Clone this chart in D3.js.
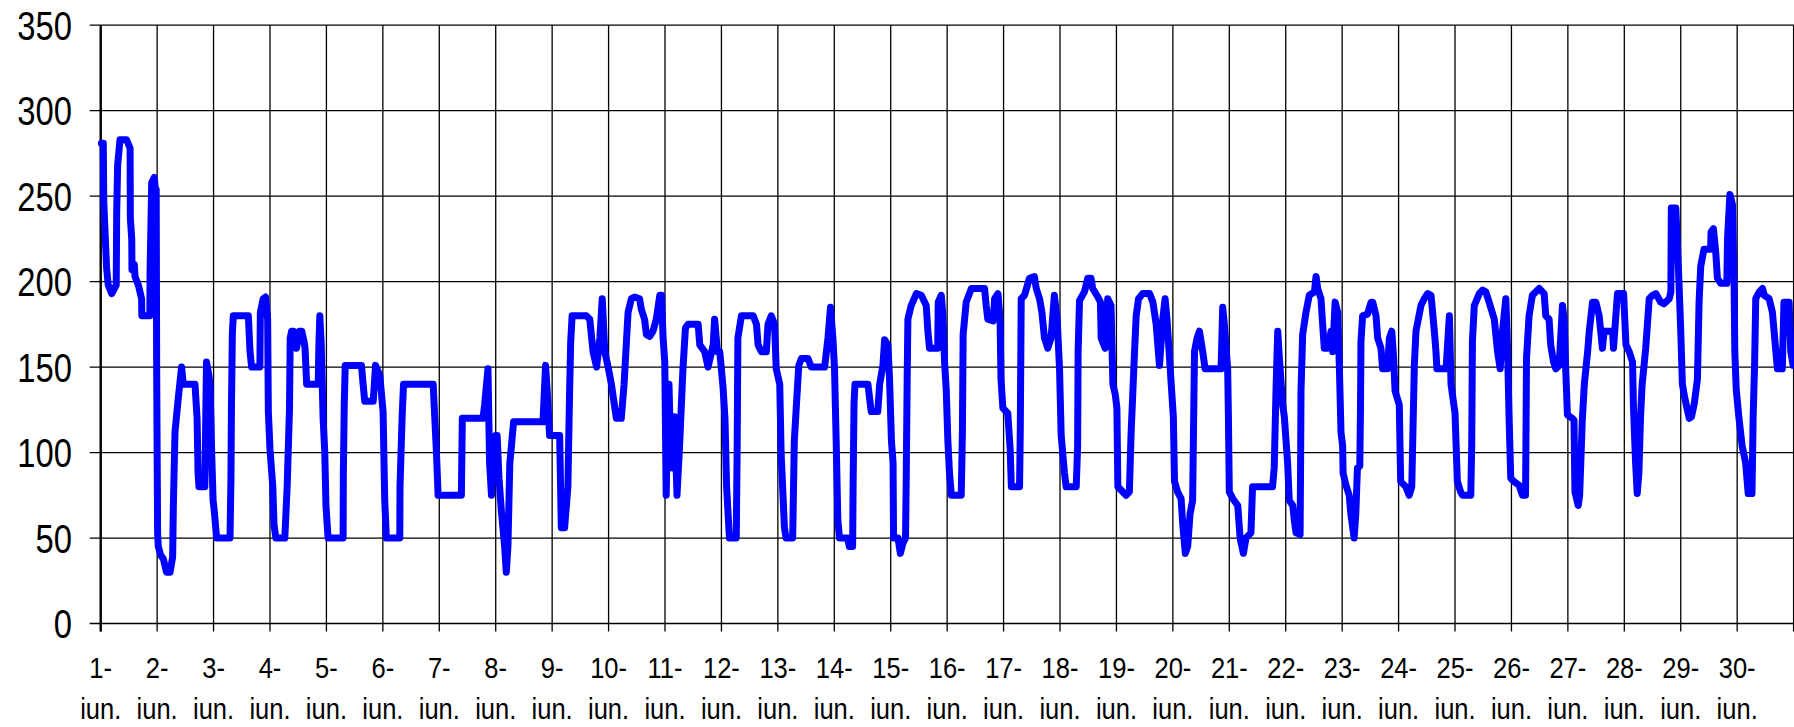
<!DOCTYPE html>
<html lang="en">
<head>
    <meta charset="UTF-8">
    <title>iunie - serie orara</title>
    <script src="https://d3js.org/d3.v7.min.js"></script>
</head>

<style>
    body { margin: 0; background: #fff; }
    svg { display: block; }

    .grid line {
        stroke: #000;
        stroke-width: 1.3px;
    }

    text {
        font-family: "Liberation Sans", Arial, sans-serif;
        fill: #000;
    }
</style>

<body>
<svg width="1794" height="727"></svg>

<script>
    // y axis ticks
    var yTicks = [0, 50, 100, 150, 200, 250, 300, 350];

    // one label per day, two lines
    var dayLabels = ["1-", "2-", "3-", "4-", "5-", "6-", "7-", "8-", "9-", "10-",
        "11-", "12-", "13-", "14-", "15-", "16-", "17-", "18-", "19-", "20-",
        "21-", "22-", "23-", "24-", "25-", "26-", "27-", "28-", "29-", "30-"];
    var monthLabel = "iun.";

    // [hours since 1 iun 00:00, value]
    var series = [
        [0.3,281],[1.1,281],[1.3,247],[2.5,208],[3.2,198],[4.7,193],[6.6,198],[6.8,240],[7.2,268],[8.2,283],
        [11.0,283],[12.5,278],[12.6,237],[13.2,225],[13.3,207],[14.3,210],[14.6,203],[16.0,198],[17.4,190],[17.5,180],
        [20.9,180],[21.0,206],[21.7,258],[22.8,261],[23.3,253],[23.6,254],[23.8,150],[24.2,53],
        [24.5,45],[25.5,40],[26.6,38],[28.0,30],[29.5,30],[30.6,39],[30.9,69],[31.6,112],[33.0,132],[34.4,150],
        [35.1,140],[40.1,140],[41.0,120],[41.4,88],[41.8,80],[44.3,80],[45.0,153],[46.0,145],[46.5,140],[47.2,100],
        [47.8,72],[48.3,66],[49.3,50],
        [55.0,50],[55.4,85],[55.6,126],[56.0,170],[56.4,180],[62.8,180],[63.5,159],[64.2,150],[67.7,150],[67.9,182],
        [69.1,190],[70.1,191],[71.0,178],[71.3,124],[72.0,102],[73.2,80],[73.7,58],[74.5,50],
        [78.3,50],[79.3,80],[80.3,126],[80.6,167],[81.2,171],[82.0,171],[83.3,161],[84.5,171],[85.5,171],[86.5,165],
        [86.9,161],[87.6,140],[92.5,140],[92.8,163],[93.2,180],[93.8,163],[94.6,120],[95.3,100],[95.8,69],[96.7,50],
        [103.1,50],[103.2,88],[103.6,129],[104.0,151],[110.9,151],[111.6,140],[112.3,130],[115.9,130],[116.9,151],[118.7,145],
        [120.1,124],[120.8,72],[121.5,50],
        [127.2,50],[127.3,80],[128.2,121],[128.8,140],[141.4,140],[142.1,120],[142.8,100],[143.5,75],[153.4,75],
        [153.8,120],[162.6,120],[163.3,128],[164.7,149],[165.4,94],[166.2,75],[166.9,94],[168.0,110],[168.6,110],[169.4,85],
        [170.4,66],[171.8,45],[172.5,30],[173.2,45],[174.0,94],[174.7,104],[175.6,118],
        [188.1,118],[189.2,151],[190.2,129],[190.9,110],[195.2,110],[195.9,56],[197.3,56],[198.7,80],[199.4,134],[199.9,165],
        [200.5,180],[206.6,180],[208.0,178],[209.4,159],[210.9,150],[212.3,167],[213.3,190],[214.4,159],[215.8,150],[217.2,140],
        [219.3,120],[221.4,120],[222.6,140],[223.6,165],[224.3,182],[225.7,190],[227.1,191],[229.2,190],[229.9,184],[231.3,178],
        [232.1,169],[233.5,168],[234.9,171],[236.3,178],[237.8,192],[238.5,192],[239.2,167],[239.9,153],[240.5,75],[241.2,120],
        [241.7,140],[242.2,110],[243.1,91],[244.1,121],[245.1,75],[246.2,104],[247.6,148],[248.7,173],[249.8,175],[254.1,175],
        [254.8,163],[256.9,159],[258.3,150],[260.5,163],[261.1,178],[262.3,159],[263.3,159],[264.7,138],[265.5,120],[266.2,80],
        [267.4,50],[270.3,50],
        [270.7,104],[271.0,167],[272.5,180],[277.5,180],[278.9,175],[279.6,163],[281.0,159],[283.1,159],[283.8,175],[285.2,180],
        [286.6,175],[287.3,149],[288.8,140],[289.4,99],[290.8,56],[291.5,50],[294.3,50],[295.0,107],[295.9,128],[296.9,151],
        [298.0,155],[300.8,155],[302.2,150],[307.9,150],[309.3,167],[310.4,185],[311.4,167],[312.1,149],[312.8,107],[313.5,61],
        [314.2,50],[317.7,50],[318.4,45],[319.8,45],[320.0,80],[320.4,129],[320.8,140],[326.3,140],[327.7,124],[330.5,124],
        [331.3,140],[332.7,151],[333.4,166],[334.8,163],[335.5,143],[336.3,107],[337.0,94],[337.2,50],[339.1,50],[340.1,41],
        [341.2,47],[342.3,50],
        [342.6,85],[343.0,143],[343.3,178],[344.7,186],[346.9,193],[349.0,192],[351.1,186],[351.8,171],[352.5,161],[356.0,161],
        [356.2,188],[357.5,192],[358.2,180],[358.9,153],[359.6,137],[360.3,107],[361.0,88],[361.8,75],[366.0,75],[366.5,113],
        [366.8,169],[368.1,188],[370.3,196],[375.9,196],[376.6,186],[377.3,178],[379.6,177],[380.2,190],[381.6,193],[382.5,178],
        [382.9,143],[383.7,126],[385.8,123],[386.8,102],[387.3,80],[390.8,80],[391.1,113],[391.5,190],[392.9,192],[395.0,202],
        [397.1,203],[397.9,196],[399.3,190],[400.3,182],[401.4,167],[402.8,161],[404.2,167],[405.6,192],[406.8,178],[407.8,149],
        [408.5,110],[409.9,88],[410.6,80],[414.9,80],[415.5,104],[415.7,159],[416.3,189],[418.4,194],[419.8,202],[421.2,202],
        [421.9,196],[424.1,191],[425.2,188],[425.5,167],[427.2,161],[428.3,190],[429.7,186],[430.5,140],[431.5,134],[432.2,126],
        [432.6,80],[436.1,75],[437.5,77],[438.2,110],[439.7,159],[440.4,180],[441.4,190],[443.2,193],[446.1,193],
        [447.5,188],[448.9,175],[450.3,151],[451.7,178],[452.7,190],[453.5,178],[454.5,157],[455.3,140],[456.2,121],[456.7,83],
        [458.0,77],[459.5,73],[460.2,58],[461.3,41],[462.3,45],[463.3,64],[464.4,72],[465.2,159],[466.3,167],[467.3,171],
        [468.7,159],[469.7,149],[476.5,149],[477.2,185],[477.9,175],[479.3,149],[479.6,123],[480.0,77],[481.5,73],[483.6,69],
        [484.6,50],[486.0,41],[487.1,50],[489.2,53],[489.9,80],[498.4,80],[499.1,91],[499.9,138],[500.6,171],[501.3,155],
        [502.7,128],[503.4,121],[504.8,94],[505.5,72],[507.0,69],[507.6,61],[508.4,53],[510.1,52],[510.3,88],[510.5,136],
        [511.2,169],[512.6,182],[514.0,192],[516.2,194],[516.9,203],[517.6,196],[519.0,190],[519.7,175],[520.4,161],[521.8,161],
        [523.3,171],[524.0,159],[525.0,188],[526.1,182],[526.8,151],[527.5,112],[528.2,104],[528.4,88],[529.6,81],[531.0,75],
        [531.7,64],[533.1,50],[533.8,64],[534.5,91],[535.5,92],
        [535.8,126],[536.0,165],[536.7,180],[538.8,181],[540.3,188],[541.0,188],[542.4,180],[543.1,167],[544.5,161],[545.2,149],
        [547.3,149],[548.1,167],[549.1,171],[549.9,155],[550.5,136],[552.3,128],[552.6,104],[552.9,83],[555.1,80],[556.5,75],
        [557.6,80],[557.9,99],[558.7,151],[559.4,171],[561.5,186],[562.9,190],[564.4,193],[565.8,192],[567.2,171],[567.9,159],
        [568.3,149],[572.2,149],[573.6,180],[574.3,140],[575.7,126],[576.0,123],[577.0,83],[578.4,77],[579.2,75],[582.7,75],
        [583.1,104],[583.4,165],[584.2,186],[586.3,193],[587.7,195],[589.1,194],[590.5,188],[592.7,178],[594.1,159],[595.2,149],
        [596.2,171],[597.6,190],[598.3,163],[599.0,120],[599.7,85],[601.1,83],[603.2,81],[604.7,75],[606.0,75],[606.2,113],
        [606.4,155],[607.5,180],[608.9,192],[611.8,196],[613.9,193],[614.6,180],[616.0,178],[616.7,163],[617.9,153],[618.9,149],
        [620.3,151],[621.7,186],[622.4,178],[623.1,148],[623.8,122],
        [625.9,120],[626.6,119],[627.0,77],[628.4,69],[629.0,75],[630.1,118],[631.0,140],[632.4,159],[633.1,171],[634.5,188],
        [635.9,188],[637.3,180],[638.7,161],[639.4,171],[643.0,171],[643.4,161],[644.4,180],[645.1,193],[647.7,193],[648.7,163],
        [650.1,159],[651.5,153],[651.9,126],[652.8,94],[653.5,76],[654.2,88],[654.9,121],[655.6,140],[656.4,151],[657.1,161],
        [658.6,190],[660.0,192],[661.4,193],[663.5,188],[664.9,187],[667.1,190],[667.8,194],[668.0,243],[669.9,243],[671.3,198],
        [672.0,171],[672.7,140],[673.7,132],[675.6,120],[676.6,121],[677.8,129],[679.1,143],[679.8,188],[680.5,209],[681.9,219],
        [684.7,219],[684.9,229],[685.9,231],[686.9,217],[687.6,202],[689.0,199],[691.6,199],[691.9,225],[692.9,251],[694.0,245],
        [694.7,198],[695.0,159],[695.6,137],[696.7,121],[698.1,104],[699.6,94],[700.7,76],[702.3,76],[702.8,121],[703.4,151],
        [703.9,190],[705.4,194],[706.8,196],[707.5,192],[709.6,190],[711.0,182],[711.7,171],[713.1,149],[715.2,149],[715.9,188],
        [718.1,188],[718.8,159],[719.8,151]
    ];

    var svg = d3.select("svg"),
        width = +svg.attr("width"),
        height = +svg.attr("height");

    var x = d3.scaleLinear().domain([0, 720]).range([100.7, 1793.6]);
    var y = d3.scaleLinear().domain([0, 350]).range([623.5, 25.2]);

    var dayHours = d3.range(0, 721, 24);

    // grid
    var grid = svg.append("g").attr("class", "grid");

    grid.selectAll("line.h")
        .data(yTicks)
        .enter().append("line")
        .attr("class", "h")
        .attr("x1", x(0) - 11)
        .attr("x2", width)
        .attr("y1", function(d) { return y(d); })
        .attr("y2", function(d) { return y(d); });

    grid.selectAll("line.v")
        .data(dayHours)
        .enter().append("line")
        .attr("class", "v")
        .attr("x1", function(d) { return x(d); })
        .attr("x2", function(d) { return x(d); })
        .attr("y1", y(350))
        .attr("y2", y(0) + 8);

    // y axis line
    svg.append("line")
        .attr("x1", x(0)).attr("x2", x(0))
        .attr("y1", y(350)).attr("y2", y(0) + 8)
        .style("stroke", "#000")
        .style("stroke-width", "2.4px");

    // data line
    var line = d3.line()
        .x(function(d) { return x(d[0]); })
        .y(function(d) { return y(d[1]); });

    svg.append("path")
        .datum(series)
        .attr("d", line)
        .style("fill", "none")
        .style("stroke", "#0000ff")
        .style("stroke-width", "7px")
        .style("stroke-linejoin", "round")
        .style("stroke-linecap", "round");

    // y labels (text is narrow in the original)
    svg.append("g").selectAll("g")
        .data(yTicks)
        .enter().append("g")
        .attr("transform", function(d) { return "translate(72," + y(d) + ") scale(0.8,1)"; })
        .append("text")
        .attr("text-anchor", "end")
        .attr("dy", "0.36em")
        .style("font-size", "41px")
        .text(function(d) { return d; });

    // x labels
    var xl = svg.append("g").selectAll("g")
        .data(dayLabels)
        .enter().append("g")
        .attr("transform", function(d, i) { return "translate(" + x(i * 24) + ",0) scale(0.88,1)"; });

    xl.append("text")
        .attr("y", 678)
        .attr("text-anchor", "middle")
        .style("font-size", "29px")
        .text(function(d) { return d; });

    xl.append("text")
        .attr("y", 719)
        .attr("text-anchor", "middle")
        .style("font-size", "29px")
        .text(monthLabel);
</script>
</body>
</html>
